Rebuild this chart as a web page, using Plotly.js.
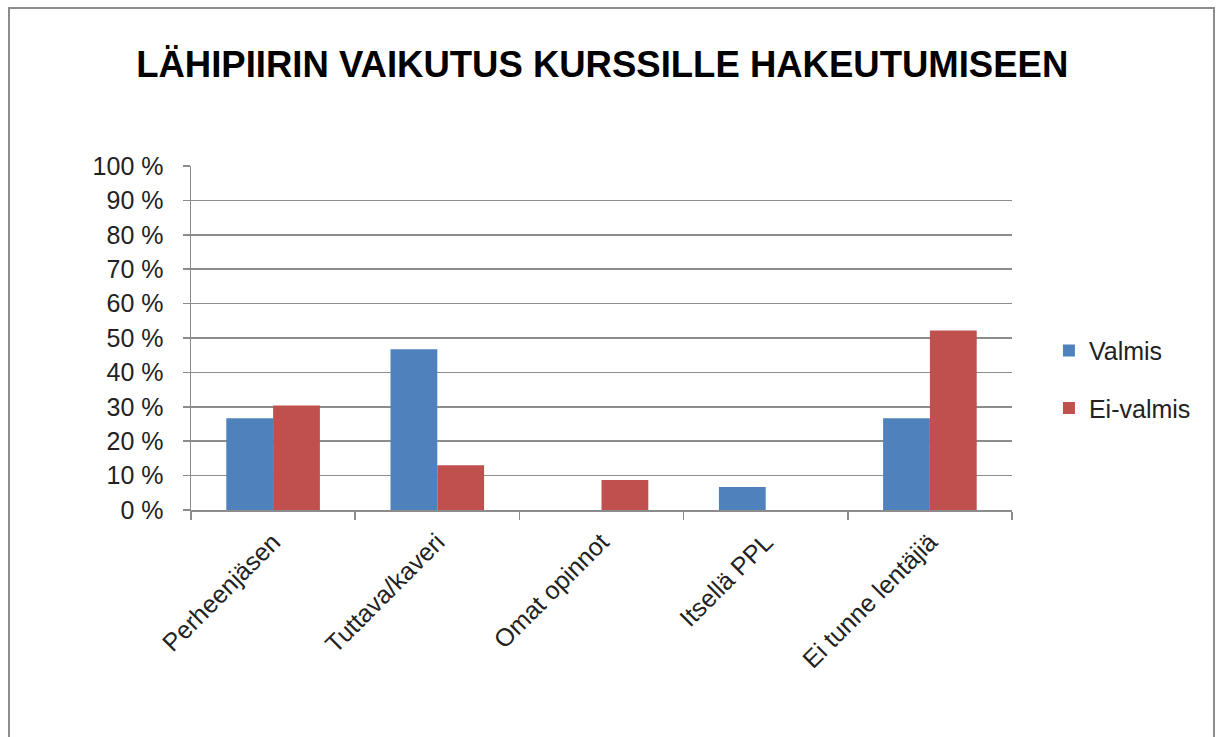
<!DOCTYPE html>
<html>
<head>
<meta charset="utf-8">
<script src="https://cdn.plot.ly/plotly-3.0.1.min.js"></script>
<style>
  html, body { margin: 0; padding: 0; background: #fff; }
  #wrap { position: relative; width: 1224px; height: 737px; overflow: hidden; }
  #chart { position: absolute; left: 0; top: 0; width: 1224px; height: 737px; }
  #frame { position: absolute; left: 8px; top: 7px; width: 1203px; height: 760px;
           border: 2px solid #8c8c8c; pointer-events: none; }
</style>
</head>
<body>
<div id="wrap">
  <div id="chart"></div>
  <div id="frame"></div>
</div>
<script>
const categories = ["Perheenjäsen", "Tuttava/kaveri", "Omat opinnot", "Itsellä PPL", "Ei tunne lentäjiä"];
const valmis = [26.7, 46.7, 0, 6.7, 26.7];
const eiValmis = [30.4, 13.0, 8.7, 0, 52.2];
const yTickVals = [0, 10, 20, 30, 40, 50, 60, 70, 80, 90, 100];
const yTickText = ["0 %", "10 %", "20 %", "30 %", "40 %", "50 %", "60 %", "70 %", "80 %", "90 %", "100 %"];

const traces = [
  { type: "bar", name: "Valmis", x: categories, y: valmis, legendgroup: "a",
    marker: { color: "#4F81BD", line: { width: 0 } }, hoverinfo: "x+y" },
  { type: "bar", name: "Ei-valmis", x: categories, y: eiValmis, legendgroup: "b",
    marker: { color: "#C0504D", line: { width: 0 } }, hoverinfo: "x+y" }
];

const layout = {
  width: 1224, height: 737,
  paper_bgcolor: "#fff", plot_bgcolor: "#fff",
  margin: { l: 191, r: 212, t: 166, b: 227 },
  barmode: "group", bargap: 0.43, bargroupgap: 0,
  font: { family: "Liberation Sans, Arial, sans-serif", color: "#222" },
  title: {
    text: "LÄHIPIIRIN VAIKUTUS KURSSILLE HAKEUTUMISEEN",
    font: { family: "Liberation Sans, Arial, sans-serif", size: 36.5, color: "#000", weight: "bold" },
    xref: "container", yref: "container", x: 0.492, xanchor: "center", y: 0.913, yanchor: "middle"
  },
  xaxis: {
    type: "category", showgrid: false, showline: true, linecolor: "#8c8c8c", linewidth: 1.5,
    ticks: "outside", tickson: "boundaries", ticklen: 8, tickcolor: "#8c8c8c", tickwidth: 1.5,
    tickangle: -45, tickfont: { size: 25, color: "#222" }, ticklabelstandoff: 6, fixedrange: true
  },
  yaxis: {
    range: [0, 100], tickvals: yTickVals, ticktext: yTickText,
    showgrid: true, gridcolor: "#8c8c8c", gridwidth: 1.5,
    showline: true, linecolor: "#8c8c8c", linewidth: 1.5,
    ticks: "outside", ticklen: 7, tickcolor: "#8c8c8c", tickwidth: 1.5,
    tickfont: { size: 25, color: "#222" }, ticklabelstandoff: 14, zeroline: false, fixedrange: true
  },
  legend: {
    x: 1.045, xanchor: "left", y: 0.53, yanchor: "top",
    font: { size: 25, color: "#222" }, tracegroupgap: 22, bgcolor: "rgba(0,0,0,0)"
  },
  showlegend: true
};

Plotly.newPlot("chart", traces, layout, { displayModeBar: false, staticPlot: true });
</script>
</body>
</html>
